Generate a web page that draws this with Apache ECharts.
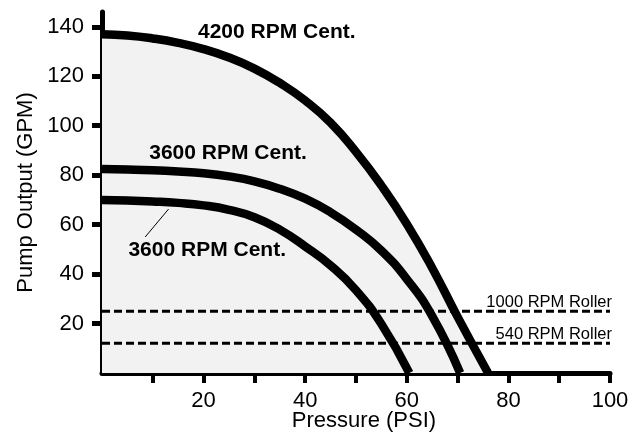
<!DOCTYPE html>
<html>
<head>
<meta charset="utf-8">
<script src="https://cdn.jsdelivr.net/npm/echarts@6/dist/echarts.min.js"></script>
<style>
  html, body { margin: 0; padding: 0; background: #ffffff; }
  #chart { width: 639px; height: 436px; }
</style>
</head>
<body>
<div id="chart"></div>
<script>
// ---- data ----
const psi4200 = [0, 5, 10, 15, 20, 25, 30, 35, 40, 45, 50, 55, 60, 65, 70, 76];
const gpm4200 = [137, 136.5, 135.3, 133.5, 131, 127.6, 123.1, 117.3, 110.2, 101.2, 89.4, 75.8, 60.3, 42.5, 22.7, 0];

const psi3600a = [0, 5, 10, 15, 20, 25, 30, 35, 40, 45, 50, 55, 60, 65, 70.5];
const gpm3600a = [82.5, 82.3, 82, 81.5, 80.8, 79.5, 77.5, 74.5, 70.5, 65, 58, 49.5, 38, 23, 0];

const psi3600b = [0, 5, 10, 15, 20, 25, 30, 35, 40, 45, 50, 55, 60.5];
const gpm3600b = [70, 69.8, 69.4, 68.8, 67.8, 66, 63, 58, 51.2, 43.5, 33.5, 19.8, 0];

const rollerPsi = [0, 100];
const roller1000 = [25, 25];
const roller540 = [12, 12];

const xTickValues = [10, 20, 30, 40, 50, 60, 70, 80, 90, 100];
const xLabelValues = [20, 40, 60, 80, 100];
const yTickValues = [20, 40, 60, 80, 100, 120, 140];

const curveNames = ['4200 RPM Cent.', '3600 RPM Cent.', '3600 RPM Cent.'];
const rollerNames = ['1000 RPM Roller', '540 RPM Roller'];

// ---- helpers ----
const zip = (xs, ys) => xs.map((x, i) => [x, ys[i]]);
const FONT = "'Liberation Sans', Arial, Helvetica, sans-serif";

const curveLabel = {
  show: true, position: 'right', distance: 0,
  fontFamily: FONT, fontWeight: 'bold', fontSize: 21, color: '#000'
};
const rollerLabel = {
  show: true, position: 'left', distance: 0, offset: [2, 0],
  fontFamily: FONT, fontSize: 16.5, color: '#000'
};
const SMOOTH = 0.5;

const chart = echarts.init(document.getElementById('chart'), null, { renderer: 'canvas' });

const option = {
  animation: false,
  backgroundColor: '#ffffff',
  grid: { left: 102, right: 29, top: 12, bottom: 63, containLabel: false, outerBoundsMode: 'none' },
  xAxis: {
    type: 'value', min: 0, max: 100, interval: 10,
    name: 'Pressure (PSI)', nameLocation: 'middle', nameGap: 37, nameMoveOverlap: false,
    nameTextStyle: { fontFamily: FONT, fontSize: 22, color: '#000', padding: [0, 0, 0, 16] },
    axisLine: { show: true, onZero: false, lineStyle: { color: '#000', width: 5 } },
    axisTick: { show: true, customValues: xTickValues, length: 10, lineStyle: { color: '#000', width: 4 } },
    axisLabel: { customValues: xLabelValues, margin: 17, fontFamily: FONT, fontSize: 22, color: '#000' },
    splitLine: { show: false }
  },
  yAxis: {
    type: 'value', min: 0, max: 146,
    name: 'Pump Output (GPM)', nameLocation: 'middle', nameGap: 65, nameRotate: 90, nameMoveOverlap: false,
    nameTextStyle: { fontFamily: FONT, fontSize: 22, color: '#000' },
    axisLine: { show: true, onZero: false, lineStyle: { color: '#000', width: 5 } },
    axisTick: { show: true, customValues: yTickValues, length: 10, lineStyle: { color: '#000', width: 5 } },
    axisLabel: { customValues: yTickValues, margin: 18, fontFamily: FONT, fontSize: 22, color: '#000' },
    splitLine: { show: false }
  },
  series: [
    {
      name: 'area', type: 'line', data: zip(psi4200, gpm4200),
      smooth: SMOOTH, showSymbol: false, symbol: 'none', z: 1, silent: true,
      lineStyle: { width: 0, opacity: 0 },
      areaStyle: { color: '#f2f2f2', origin: 'start', opacity: 1 }
    },
    {
      name: rollerNames[0], type: 'line', data: zip(rollerPsi, roller1000),
      showSymbol: false, symbol: 'none', z: 2,
      lineStyle: { color: '#000', width: 3, type: [8, 4] },
      markPoint: {
        symbolSize: 0, silent: true,
        label: rollerLabel,
        data: [{ coord: [100, 28.6], value: rollerNames[0], label: { formatter: rollerNames[0] } }]
      }
    },
    {
      name: rollerNames[1], type: 'line', data: zip(rollerPsi, roller540),
      showSymbol: false, symbol: 'none', z: 2,
      lineStyle: { color: '#000', width: 3, type: [8, 4] },
      markPoint: {
        symbolSize: 0, silent: true,
        label: rollerLabel,
        data: [{ coord: [100, 15.6], value: rollerNames[1], label: { formatter: rollerNames[1] } }]
      }
    },
    {
      name: curveNames[0], type: 'line', data: zip(psi4200, gpm4200),
      smooth: SMOOTH, showSymbol: false, symbol: 'none', z: 3,
      lineStyle: { color: '#000', width: 8.5 },
      markPoint: {
        symbolSize: 0, silent: true,
        label: curveLabel,
        data: [{ coord: [18.9, 138], value: curveNames[0], label: { formatter: curveNames[0] } }]
      }
    },
    {
      name: curveNames[1], type: 'line', data: zip(psi3600a, gpm3600a),
      smooth: SMOOTH, showSymbol: false, symbol: 'none', z: 3,
      lineStyle: { color: '#000', width: 8.5 },
      markPoint: {
        symbolSize: 0, silent: true,
        label: curveLabel,
        data: [{ coord: [9.3, 89], value: curveNames[1], label: { formatter: curveNames[1] } }]
      }
    },
    {
      name: curveNames[2], type: 'line', data: zip(psi3600b, gpm3600b),
      smooth: SMOOTH, showSymbol: false, symbol: 'none', z: 3,
      lineStyle: { color: '#000', width: 8.5 },
      markPoint: {
        symbolSize: 0, silent: true,
        label: curveLabel,
        data: [{ coord: [5.2, 49.7], value: curveNames[2], label: { formatter: curveNames[2] } }]
      },
      markLine: {
        silent: true, symbol: ['none', 'none'],
        lineStyle: { color: '#000', width: 1, type: 'solid' },
        label: { show: false },
        data: [[{ coord: [8.5, 55] }, { coord: [13.1, 66.3] }]]
      }
    }
  ]
};
chart.setOption(option);
</script>
</body>
</html>
